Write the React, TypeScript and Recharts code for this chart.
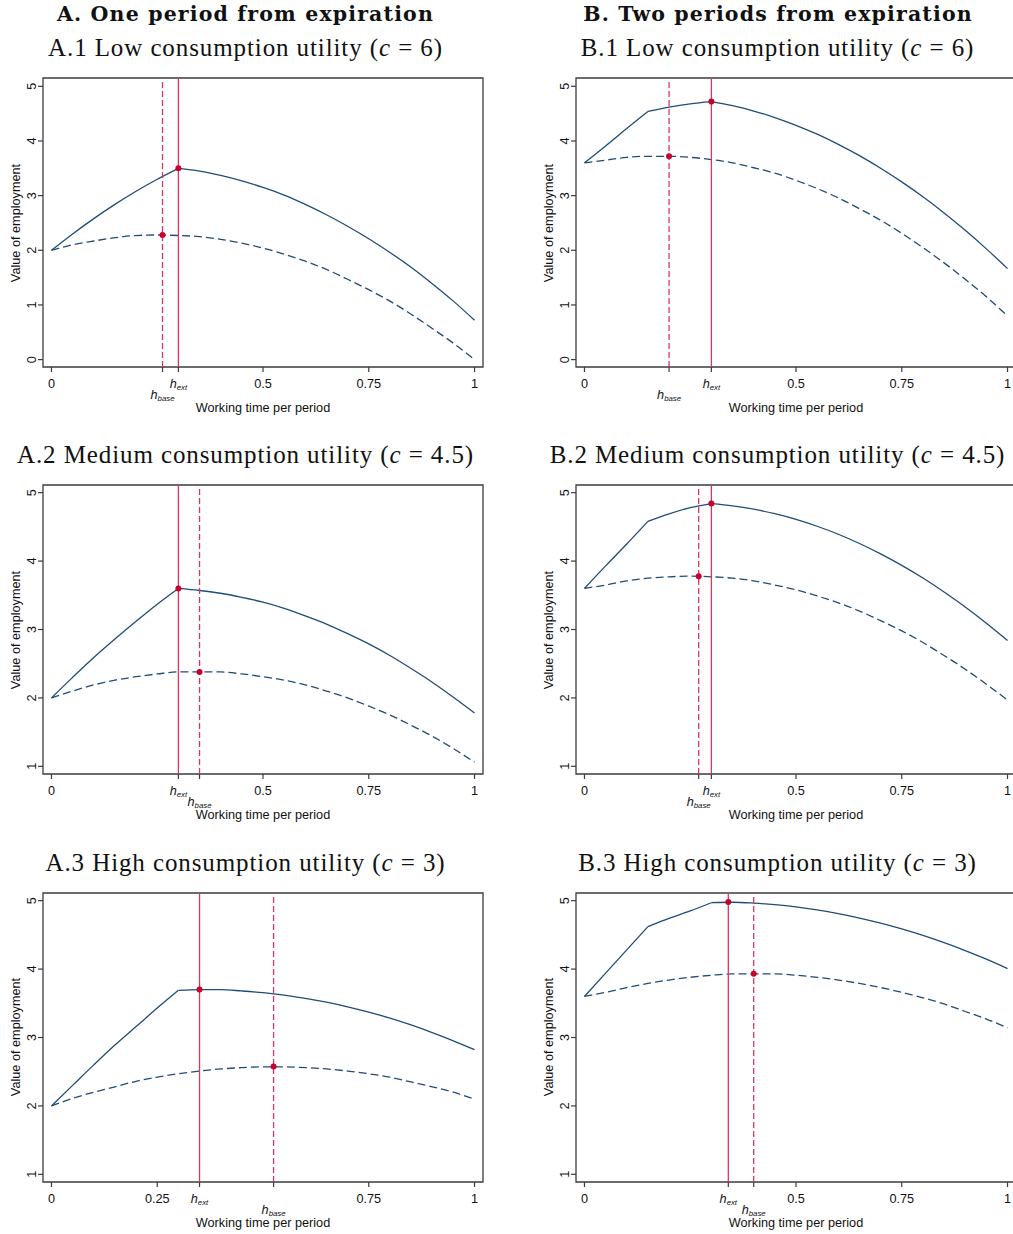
import { LineChart, Line, XAxis, YAxis, ReferenceLine, ReferenceDot, ReferenceArea } from 'recharts';

// working time grid shared by every panel
const H = [0, 0.05, 0.1, 0.15, 0.2, 0.25, 0.3, 0.35, 0.4, 0.45, 0.5, 0.55, 0.6, 0.65, 0.7, 0.75, 0.8, 0.85, 0.9, 0.95, 1];

// A. one period from expiration (solid = with extension, dashed = baseline)
const A1_SOLID = [2.0, 2.3, 2.58, 2.84, 3.08, 3.3, 3.5, 3.45, 3.37, 3.27, 3.15, 3.01, 2.84, 2.65, 2.44, 2.21, 1.96, 1.69, 1.39, 1.07, 0.72];
const A1_DASHED = [2.0, 2.1, 2.17, 2.23, 2.27, 2.28, 2.27, 2.25, 2.2, 2.13, 2.04, 1.93, 1.8, 1.65, 1.47, 1.28, 1.07, 0.83, 0.57, 0.3, 0.0];
const A2_SOLID = [2.0, 2.3, 2.59, 2.86, 3.12, 3.37, 3.6, 3.57, 3.53, 3.47, 3.4, 3.31, 3.2, 3.08, 2.94, 2.79, 2.62, 2.43, 2.23, 2.01, 1.78];
const A2_DASHED = [2.0, 2.1, 2.19, 2.26, 2.31, 2.35, 2.38, 2.38, 2.38, 2.35, 2.31, 2.26, 2.19, 2.1, 2.0, 1.88, 1.75, 1.6, 1.44, 1.26, 1.06];
const A3_SOLID = [2.0, 2.3, 2.6, 2.89, 3.16, 3.43, 3.69, 3.7, 3.7, 3.68, 3.655, 3.62, 3.573, 3.517, 3.449, 3.371, 3.283, 3.183, 3.072, 2.952, 2.822];
const A3_DASHED = [2.0, 2.11, 2.2, 2.28, 2.36, 2.42, 2.47, 2.51, 2.54, 2.56, 2.57, 2.57, 2.56, 2.54, 2.51, 2.47, 2.42, 2.35, 2.28, 2.2, 2.1];

// B. two periods from expiration
const B1_SOLID = [3.6, 3.91, 4.23, 4.54, 4.62, 4.68, 4.72, 4.645, 4.548, 4.429, 4.287, 4.124, 3.939, 3.732, 3.502, 3.251, 2.978, 2.683, 2.365, 2.026, 1.665];
const B1_DASHED = [3.6, 3.65, 3.7, 3.72, 3.72, 3.7, 3.66, 3.6, 3.51, 3.41, 3.28, 3.13, 2.96, 2.76, 2.55, 2.31, 2.05, 1.77, 1.47, 1.15, 0.8];
const B2_SOLID = [3.6, 3.93, 4.25, 4.58, 4.69, 4.78, 4.84, 4.808, 4.759, 4.692, 4.609, 4.509, 4.392, 4.257, 4.106, 3.937, 3.752, 3.549, 3.33, 3.093, 2.84];
const B2_DASHED = [3.6, 3.65, 3.71, 3.75, 3.77, 3.78, 3.77, 3.75, 3.71, 3.65, 3.58, 3.49, 3.39, 3.27, 3.13, 2.98, 2.81, 2.62, 2.42, 2.2, 1.97];
const B3_SOLID = [3.6, 3.94, 4.28, 4.62, 4.74, 4.85, 4.97, 4.977, 4.964, 4.941, 4.908, 4.864, 4.81, 4.746, 4.672, 4.587, 4.492, 4.386, 4.271, 4.145, 4.008];
const B3_DASHED = [3.6, 3.66, 3.73, 3.79, 3.84, 3.88, 3.91, 3.93, 3.93, 3.93, 3.91, 3.88, 3.84, 3.79, 3.73, 3.66, 3.58, 3.49, 3.38, 3.27, 3.14];

// where the solid curves bend (hours)
const A_KINKS = [0.3];
const B_KINKS = [0.15, 0.3];

// optimal hours [h, value]
const A1_EXT = [0.3, 3.5];
const A1_BASE = [0.2625, 2.28];
const A2_EXT = [0.3, 3.6];
const A2_BASE = [0.35, 2.38];
const A3_EXT = [0.35, 3.7];
const A3_BASE = [0.525, 2.575];
const B1_EXT = [0.3, 4.72];
const B1_BASE = [0.2, 3.72];
const B2_EXT = [0.3, 4.84];
const B2_BASE = [0.27, 3.78];
const B3_EXT = [0.34, 4.98];
const B3_BASE = [0.4, 3.93];

const X_TICKS = [0, 0.5, 0.75, 1];
const X_TICKS_A3 = [0, 0.25, 0.75, 1];
const Y_TICKS_ROW1 = [0, 1, 2, 3, 4, 5];
const Y_TICKS = [1, 2, 3, 4, 5];

const HEADERS = ['A. One period from expiration', 'B. Two periods from expiration'];
const LEVELS = ['Low consumption utility', 'Medium consumption utility', 'High consumption utility'];
const C_VALUES = ['6', '4.5', '3'];

const NAVY = '#1f4d78';
const RED = '#dc3560';
const DOT = '#c8002f';
const FRAME = '#3c3c3c';
const SANS = '"Liberation Sans", Arial, sans-serif';
const SERIF = '"Liberation Serif", "Times New Roman", serif';

const BOX_TOP = 78;
const ROW_STEP = 407.3;
const BOX_W = 440;
const BOX_H = 289;
const Y_AXIS_W = 43;
const X_DOMAIN = [-0.02, 1.02];

function XTick({ x, y, payload, ext, base }: any) {
  const v = payload.value;
  if (v === ext || v === base) {
    const isBase = v === base;
    return (
      <text x={x} y={y + 14 + (isBase ? 11 : 0)} textAnchor="middle" fontFamily={SANS} fontSize={12.7} fontStyle="italic" fill="#111">
        h<tspan fontSize={7.8} dy={1.5}>{isBase ? 'base' : 'ext'}</tspan>
      </text>
    );
  }
  return (
    <text x={x} y={y + 14} textAnchor="middle" fontFamily={SANS} fontSize={12.7} fill="#111">
      {String(v)}
    </text>
  );
}

function YTick({ x, y, payload }: any) {
  return (
    <text x={x} y={y} transform={`rotate(-90 ${x} ${y})`} textAnchor="middle" fontFamily={SANS} fontSize={12.7} fill="#111">
      {payload.value}
    </text>
  );
}

function Panel({ left, row, solid, dashed, kinks, ext, base, yDomain, yTicks, xTicks }: any) {
  // split the solid curve at its kinks so each smooth piece keeps its corner
  const bounds = [0, ...kinks, 1];
  const segs = bounds.slice(1).map((hi: number, k: number) => [bounds[k], hi]);
  const data = H.map((h, i) => {
    const d: any = { h, dashed: dashed[i] };
    segs.forEach(([lo, hi]: number[], k: number) => {
      d['s' + k] = h >= lo - 1e-9 && h <= hi + 1e-9 ? solid[i] : null;
    });
    return d;
  });
  const ticks = [...xTicks, ext[0], base[0]].sort((a, b) => a - b);
  const top = BOX_TOP + row * ROW_STEP - 10;
  return (
    <div style={{ position: 'absolute', left, top, width: 500, height: 349 }}>
      <LineChart width={500} height={349} data={data} margin={{ top: 10, right: 17, bottom: 0, left: 0 }}>
        <XAxis
          dataKey="h"
          type="number"
          domain={X_DOMAIN}
          allowDataOverflow
          ticks={ticks}
          interval={0}
          height={50}
          tickSize={5}
          tickMargin={2}
          axisLine={false}
          tickLine={{ stroke: FRAME, strokeWidth: 1.2 }}
          tick={(p: any) => <XTick {...p} ext={ext[0]} base={base[0]} />}
        />
        <YAxis
          type="number"
          domain={yDomain}
          allowDataOverflow
          ticks={yTicks}
          interval={0}
          width={Y_AXIS_W}
          tickSize={5}
          tickMargin={2}
          axisLine={false}
          tickLine={{ stroke: FRAME, strokeWidth: 1.2 }}
          tick={YTick}
        />
        <ReferenceArea x1={X_DOMAIN[0]} x2={X_DOMAIN[1]} y1={yDomain[0]} y2={yDomain[1]} fill="none" stroke={FRAME} strokeWidth={1.3} />
        <Line type="monotone" dataKey="dashed" stroke={NAVY} strokeWidth={1.3} strokeDasharray="8 4" dot={false} isAnimationActive={false} />
        {segs.map((_: any, k: number) => (
          <Line
            key={k}
            type="monotone"
            dataKey={'s' + k}
            stroke={NAVY}
            strokeWidth={1.3}
            dot={false}
            connectNulls={false}
            isAnimationActive={false}
          />
        ))}
        <ReferenceLine x={ext[0]} stroke={RED} strokeWidth={1.3} />
        <ReferenceLine x={base[0]} stroke={RED} strokeWidth={1.3} strokeDasharray="6 3" />
        <ReferenceDot x={ext[0]} y={ext[1]} r={3} fill={DOT} stroke="none" />
        <ReferenceDot x={base[0]} y={base[1]} r={3} fill={DOT} stroke="none" />
      </LineChart>
      <div
        style={{
          position: 'absolute',
          left: 16,
          top: 10 + BOX_H / 2,
          transform: 'translate(-50%, -50%) rotate(-90deg)',
          whiteSpace: 'nowrap',
          fontFamily: SANS,
          fontSize: 12.7,
          color: '#111',
        }}
      >
        Value of employment
      </div>
      <div
        style={{
          position: 'absolute',
          left: Y_AXIS_W,
          width: BOX_W,
          top: 10 + BOX_H + 34,
          lineHeight: '14px',
          textAlign: 'center',
          fontFamily: SANS,
          fontSize: 12.7,
          color: '#111',
        }}
      >
        Working time per period
      </div>
    </div>
  );
}

function Subtitle({ cx, row, prefix }: any) {
  return (
    <div
      style={{
        position: 'absolute',
        left: cx - 250,
        width: 500,
        top: 35 + row * ROW_STEP,
        textAlign: 'center',
        fontFamily: SERIF,
        fontSize: 25,
        lineHeight: '25px',
        letterSpacing: 0.9,
        whiteSpace: 'nowrap',
        color: '#111',
      }}
    >
      {prefix}.{row + 1} {LEVELS[row]} (<i>c</i> = {C_VALUES[row]})
    </div>
  );
}

export default function App() {
  const headerStyle = (cx: number) => ({
    position: 'absolute' as const,
    left: cx - 250,
    width: 500,
    top: 2,
    textAlign: 'center' as const,
    fontFamily: '"DejaVu Serif", serif',
    fontWeight: 'bold' as const,
    fontSize: 20.5,
    lineHeight: '25px',
    letterSpacing: 1.15,
    whiteSpace: 'nowrap' as const,
    color: '#111',
  });
  return (
    <div style={{ position: 'absolute', left: 0, top: 0, width: 1013, height: 1234, overflow: 'hidden', background: '#fff' }}>
      <div style={headerStyle(245.5)}>{HEADERS[0]}</div>
      <div style={headerStyle(778)}>{HEADERS[1]}</div>
      {[0, 1, 2].map((r) => (
        <Subtitle key={'a' + r} cx={245.5} row={r} prefix="A" />
      ))}
      {[0, 1, 2].map((r) => (
        <Subtitle key={'b' + r} cx={777.5} row={r} prefix="B" />
      ))}
      <Panel left={0} row={0} solid={A1_SOLID} dashed={A1_DASHED} kinks={A_KINKS} ext={A1_EXT} base={A1_BASE} yDomain={[-0.135, 5.152]} yTicks={Y_TICKS_ROW1} xTicks={X_TICKS} />
      <Panel left={0} row={1} solid={A2_SOLID} dashed={A2_DASHED} kinks={A_KINKS} ext={A2_EXT} base={A2_BASE} yDomain={[0.888, 5.112]} yTicks={Y_TICKS} xTicks={X_TICKS} />
      <Panel left={0} row={2} solid={A3_SOLID} dashed={A3_DASHED} kinks={A_KINKS} ext={A3_EXT} base={A3_BASE} yDomain={[0.888, 5.112]} yTicks={Y_TICKS} xTicks={X_TICKS_A3} />
      <Panel left={533} row={0} solid={B1_SOLID} dashed={B1_DASHED} kinks={B_KINKS} ext={B1_EXT} base={B1_BASE} yDomain={[-0.135, 5.152]} yTicks={Y_TICKS_ROW1} xTicks={X_TICKS} />
      <Panel left={533} row={1} solid={B2_SOLID} dashed={B2_DASHED} kinks={B_KINKS} ext={B2_EXT} base={B2_BASE} yDomain={[0.888, 5.112]} yTicks={Y_TICKS} xTicks={X_TICKS} />
      <Panel left={533} row={2} solid={B3_SOLID} dashed={B3_DASHED} kinks={B_KINKS} ext={B3_EXT} base={B3_BASE} yDomain={[0.888, 5.112]} yTicks={Y_TICKS} xTicks={X_TICKS} />
    </div>
  );
}
